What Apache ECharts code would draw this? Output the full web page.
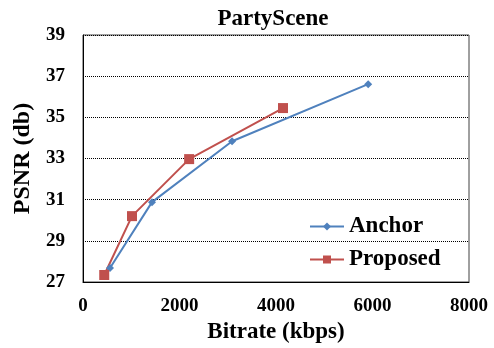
<!DOCTYPE html>
<html>
<head>
<meta charset="utf-8">
<script src="https://cdn.jsdelivr.net/npm/echarts@6/dist/echarts.min.js"></script>
<style>
  html, body { margin: 0; padding: 0; background: #fff; }
  #chart { width: 494px; height: 348px; }
</style>
</head>
<body>
<div id="chart"></div>
<script>
const seriesNames = ['Anchor', 'Proposed']
const anchorRate = [560, 1430, 3090, 5910]
const anchorPsnr = [27.68, 30.88, 33.84, 36.61]
const proposedRate = [440, 1015, 2200, 4145]
const proposedPsnr = [27.34, 30.2, 32.97, 35.45]

const font = '"Liberation Serif", "Times New Roman", serif'

const pairs = (xs, ys) => xs.map((x, i) => [x, ys[i]])

const chart = echarts.init(document.getElementById('chart'), null, { renderer: 'canvas' })

chart.setOption({
  backgroundColor: '#fff',
  animation: false,
  textStyle: { fontFamily: font, color: '#000' },
  title: {
    text: 'PartyScene',
    left: 268,
    top: 3,
    textAlign: 'center',
    textStyle: { fontFamily: font, fontSize: 23, fontWeight: 'bold', color: '#000' },
  },
  grid: {
    left: 83,
    right: 25,
    top: 35,
    bottom: 66,
    outerBoundsMode: 'none',
    containLabel: false,
    show: true,
    borderColor: '#404040',
    borderWidth: 1,
  },
  legend: {
    orient: 'vertical',
    left: 304,
    top: 210,
    itemGap: 10,
    itemWidth: 34,
    itemHeight: 10,
    data: seriesNames,
    textStyle: { fontFamily: font, fontSize: 23, fontWeight: 'bold', color: '#000' },
  },
  xAxis: {
    type: 'value',
    min: 0,
    max: 8000,
    interval: 2000,
    name: 'Bitrate (kbps)',
    nameLocation: 'middle',
    nameGap: 39,
    nameTextStyle: { fontFamily: font, fontSize: 23, fontWeight: 'bold', color: '#000' },
    axisLine: { lineStyle: { color: '#000' } },
    axisTick: { show: false },
    splitLine: { show: false },
    axisLabel: {
      fontFamily: font, fontSize: 19, fontWeight: 'bold', color: '#000', margin: 15,
      formatter: v => String(v),
    },
  },
  yAxis: {
    type: 'value',
    min: 27,
    max: 39,
    interval: 2,
    name: 'PSNR (db)',
    nameLocation: 'middle',
    nameGap: 46,
    nameTextStyle: { fontFamily: font, fontSize: 24, fontWeight: 'bold', color: '#000' },
    axisLine: { show: true, lineStyle: { color: '#000' } },
    axisTick: { show: false },
    splitLine: { lineStyle: { color: '#000', type: 'dotted', width: 1 } },
    axisLabel: { fontFamily: font, fontSize: 19, fontWeight: 'bold', color: '#000', margin: 18 },
  },
  series: [
    {
      name: seriesNames[0],
      type: 'line',
      data: pairs(anchorRate, anchorPsnr),
      symbol: 'diamond',
      symbolSize: 8,
      color: '#4F81BD',
      lineStyle: { width: 2, color: '#4F81BD' },
      itemStyle: { color: '#4F81BD' },
    },
    {
      name: seriesNames[1],
      type: 'line',
      data: pairs(proposedRate, proposedPsnr),
      symbol: 'rect',
      symbolSize: 10,
      color: '#C0504D',
      lineStyle: { width: 2, color: '#C0504D' },
      itemStyle: { color: '#C0504D' },
    },
  ],
})
</script>
</body>
</html>
